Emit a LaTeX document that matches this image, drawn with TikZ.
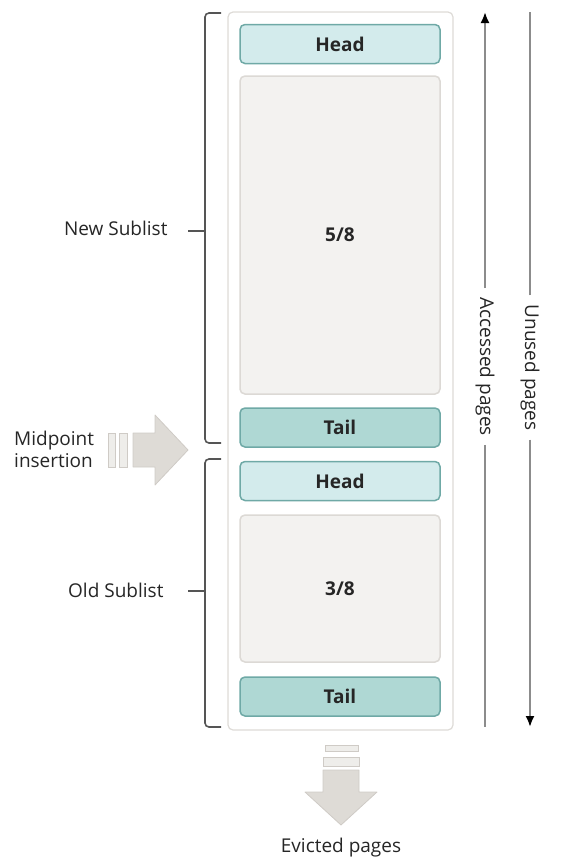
\documentclass[tikz,border=0pt]{standalone}
\usepackage{fontspec}
\setmainfont{Open Sans}
\usepackage{tikz}
\usetikzlibrary{arrows.meta}
\definecolor{headcol}{HTML}{D3EBEC}
\definecolor{tailcol}{HTML}{AFD8D4}
\definecolor{tealline}{HTML}{6FA9A6}
\definecolor{pagecol}{HTML}{F3F2F0}
\definecolor{pageline}{HTML}{DCD9D5}
\definecolor{listline}{HTML}{DEDBD7}
\definecolor{arrowcol}{HTML}{DEDBD6}
\definecolor{arrowline}{HTML}{CFCBC6}
\definecolor{barcol}{HTML}{EEEDEA}
\definecolor{bracecol}{HTML}{555555}
\tikzstyle{every node}=[font=\fontsize{19}{22}\selectfont, text=black!85]
\tikzstyle{listbox}=[draw=listline, line width=1.2pt, rounded corners=5pt, fill=white, minimum width=225pt, minimum height=718pt, inner sep=0pt]
\tikzstyle{headbox}=[draw=tealline, line width=1.5pt, rounded corners=5pt, fill=headcol, minimum width=200pt, minimum height=39pt, inner sep=0pt, font=\fontsize{19}{22}\selectfont\bfseries]
\tikzstyle{tailbox}=[headbox, fill=tailcol]
\tikzstyle{pagebox}=[draw=pageline, line width=1.5pt, rounded corners=5pt, fill=pagecol, minimum width=200pt, inner sep=0pt, font=\fontsize{19}{22}\selectfont\bfseries]
\tikzstyle{brace}=[draw=bracecol, line width=1.6pt, rounded corners=4pt]
\tikzstyle{bigarrow}=[draw=arrowline, line width=0.8pt, fill=arrowcol, line join=round]
\tikzstyle{bar}=[draw=arrowline, line width=0.8pt, fill=barcol]
\tikzstyle{sidearrow}=[draw=gray!90, line width=2pt]
\tikzstyle{sidelabel}=[rotate=-90, inner sep=9pt]

\begin{document}
\begin{tikzpicture}[x=1pt, y=-1pt]
\useasboundingbox (0,0) rectangle (570,868);
% the buffer pool list
\node[listbox] (list) at (340.5,371) {};
\node[headbox] (newhead) at (340,44) {Head};
\node[pagebox, minimum height=318pt] (newpages) at (340,235) {5/8};
\node[tailbox] (newtail) at (340,427.5) {Tail};
\node[headbox] (oldhead) at (340,481) {Head};
\node[pagebox, minimum height=147pt] (oldpages) at (340,588.5) {3/8};
\node[tailbox] (oldtail) at (340,696.5) {Tail};
% sublists
\node[anchor=east] (newlbl) at (171,228) {New Sublist};
\node[anchor=east] (oldlbl) at (167,590) {Old Sublist};
\coordinate (nb1) at (221,13);
\coordinate (nb2) at (221,443);
\coordinate (ob1) at (221,459);
\coordinate (ob2) at (221,727);
\draw[brace] (nb1) -- (205,13) -- (205,443) -- (nb2);
\draw[brace] (188,231) -- (205,231);
\draw[brace] (ob1) -- (205,459) -- (205,727) -- (ob2);
\draw[brace] (188,591) -- (205,591);
% midpoint insertion
\node[anchor=west, align=left, inner sep=0pt, font=\fontsize{19}{22}\selectfont] (midlbl) at (14,449) {Midpoint\\insertion};
\draw[bar] (108,433) rectangle (115,467);
\draw[bar] (119,433) rectangle (127,467);
\draw[bigarrow] (133,433) -- (155,433) -- (155,415) -- (188,450) -- (155,485) -- (155,467) -- (133,467) -- cycle;
% evicted pages
\draw[bar] (325,745) rectangle (358,751);
\draw[bar] (323,757) rectangle (359,766);
\draw[bigarrow] (323,770) -- (359,770) -- (359,792) -- (377,792) -- (341,825) -- (305,792) -- (323,792) -- cycle;
\node (evlbl) at (341,848) {Evicted pages};
% access order
\node[sidelabel] (acc) at (485,366.5) {Accessed pages};
\node[sidelabel] (unused) at (530,367.5) {Unused pages};
\coordinate (acctop) at (485,12);
\coordinate (accbot) at (485,727);
\coordinate (untop) at (530,12);
\coordinate (unbot) at (530,727);
\draw[sidearrow, -{Latex[length=11pt,width=9pt,color=black]}] (acc.west) -- (acctop);
\draw[sidearrow] (acc.east) -- (accbot);
\draw[sidearrow] (unused.west) -- (untop);
\draw[sidearrow, -{Latex[length=11pt,width=9pt,color=black]}] (unused.east) -- (unbot);
\end{tikzpicture}
\end{document}
